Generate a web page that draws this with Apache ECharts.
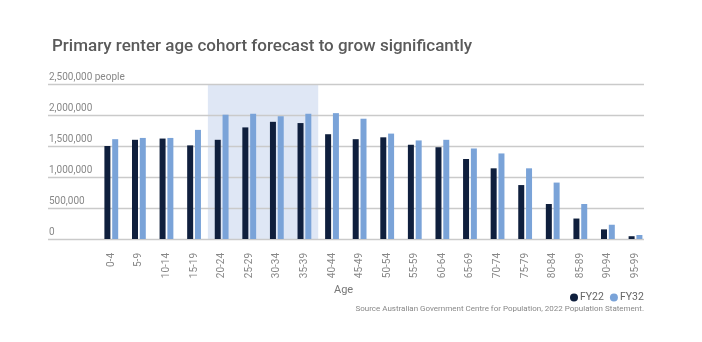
<!DOCTYPE html>
<html>
<head>
<meta charset="utf-8">
<script src="https://cdn.jsdelivr.net/npm/echarts@6/dist/echarts.min.js"></script>
<style>
html,body{margin:0;padding:0;background:#fff;}
#chart{width:702px;height:342px;}
</style>
</head>
<body>
<div id="chart"></div>
<script>
const categories = ['0-4','5-9','10-14','15-19','20-24','25-29','30-34','35-39','40-44','45-49','50-54','55-59','60-64','65-69','70-74','75-79','80-84','85-89','90-94','95-99'];
const fy22 = [1500000,1600000,1620000,1510000,1600000,1800000,1890000,1870000,1690000,1610000,1640000,1520000,1480000,1290000,1140000,870000,565000,330000,155000,45000];
const fy32 = [1610000,1630000,1630000,1760000,2005000,2020000,1980000,2020000,2030000,1940000,1700000,1590000,1600000,1460000,1380000,1140000,910000,565000,230000,65000];
const highlightCategories = ['20-24','35-39'];
const yMax = 2500000;
const yInterval = 500000;
const titleText = 'Primary renter age cohort forecast to grow significantly';
const xAxisTitle = 'Age';
const sourceText = 'Source Australian Government Centre for Population, 2022 Population Statement.';

const highlightData = [[categories.indexOf(highlightCategories[0]), categories.indexOf(highlightCategories[1]), yMax]];
const fmt = v => String(v).replace(/\B(?=(\d{3})+(?!\d))/g, ',');

const chart = echarts.init(document.getElementById('chart'), null, {renderer: 'canvas'});
chart.setOption({
  backgroundColor: '#ffffff',
  animation: false,
  textStyle: {fontFamily: 'Roboto'},
  title: {
    text: titleText,
    left: 47,
    top: 33,
    textStyle: {fontSize: 17, fontWeight: 500, color: '#5a5a5a', fontFamily: 'Roboto'}
  },
  legend: {
    data: ['FY22', 'FY32'],
    left: 565,
    top: 287,
    icon: 'circle',
    itemWidth: 8,
    itemHeight: 8,
    itemGap: 6,
    textStyle: {fontSize: 10.5, color: '#666', fontFamily: 'Roboto', padding: [0, 0, 0, -3]}
  },
  grid: [
    {left: 48, right: 58, top: 84, bottom: 103},
    {left: 97.5, right: 52.7, top: 84, bottom: 103}
  ],
  xAxis: [
    {gridIndex: 0, type: 'value', min: 0, max: 1, show: false},
    {
      gridIndex: 1, type: 'category', data: categories,
      axisLine: {show: false}, axisTick: {show: false},
      axisLabel: {rotate: 90, margin: 14, fontSize: 10, color: '#888', interval: 0, fontFamily: 'Roboto'}
    }
  ],
  yAxis: [
    {
      gridIndex: 0, type: 'value', min: 0, max: yMax, interval: yInterval, z: 2,
      axisLine: {show: false}, axisTick: {show: false},
      splitLine: {lineStyle: {color: '#cacaca', width: 1.3}},
      axisLabel: {
        inside: true, margin: 1, fontSize: 10, color: '#888', fontFamily: 'Roboto',
        verticalAlign: 'bottom', padding: [0, 0, 2, 0],
        formatter: v => v === yMax ? fmt(v) + ' people' : fmt(v)
      }
    },
    {gridIndex: 1, type: 'value', min: 0, max: yMax, interval: yInterval, show: false}
  ],
  graphic: [
    {type: 'text', left: 334, top: 285, style: {text: xAxisTitle, fontSize: 11, fill: '#777', fontFamily: 'Roboto'}},
    {type: 'text', right: 58, top: 305, style: {text: sourceText, fontSize: 8, fill: '#888', fontFamily: 'Roboto'}}
  ],
  series: [
    {
      name: 'highlight', type: 'custom', xAxisIndex: 1, yAxisIndex: 1,
      data: highlightData, z: 1, silent: true,
      encode: {x: [0, 1], y: 2},
      renderItem: function (params, api) {
        const top = api.coord([api.value(0), api.value(2)]);
        const bottom = api.coord([api.value(1), 0]);
        const bw = api.size([1, 0])[0];
        return {
          type: 'rect',
          shape: {x: top[0] - bw / 2, y: top[1], width: bottom[0] - top[0] + bw, height: bottom[1] - top[1]},
          style: {fill: '#dfe7f5'}
        };
      }
    },
    {
      name: 'FY22', type: 'bar', xAxisIndex: 1, yAxisIndex: 1, data: fy22,
      barWidth: 6, barGap: '30%', z: 3, itemStyle: {color: '#0f1f3d'}
    },
    {
      name: 'FY32', type: 'bar', xAxisIndex: 1, yAxisIndex: 1, data: fy32,
      barWidth: 6, barGap: '30%', z: 3, itemStyle: {color: '#7aa3d8'}
    }
  ]
});
</script>
</body>
</html>
